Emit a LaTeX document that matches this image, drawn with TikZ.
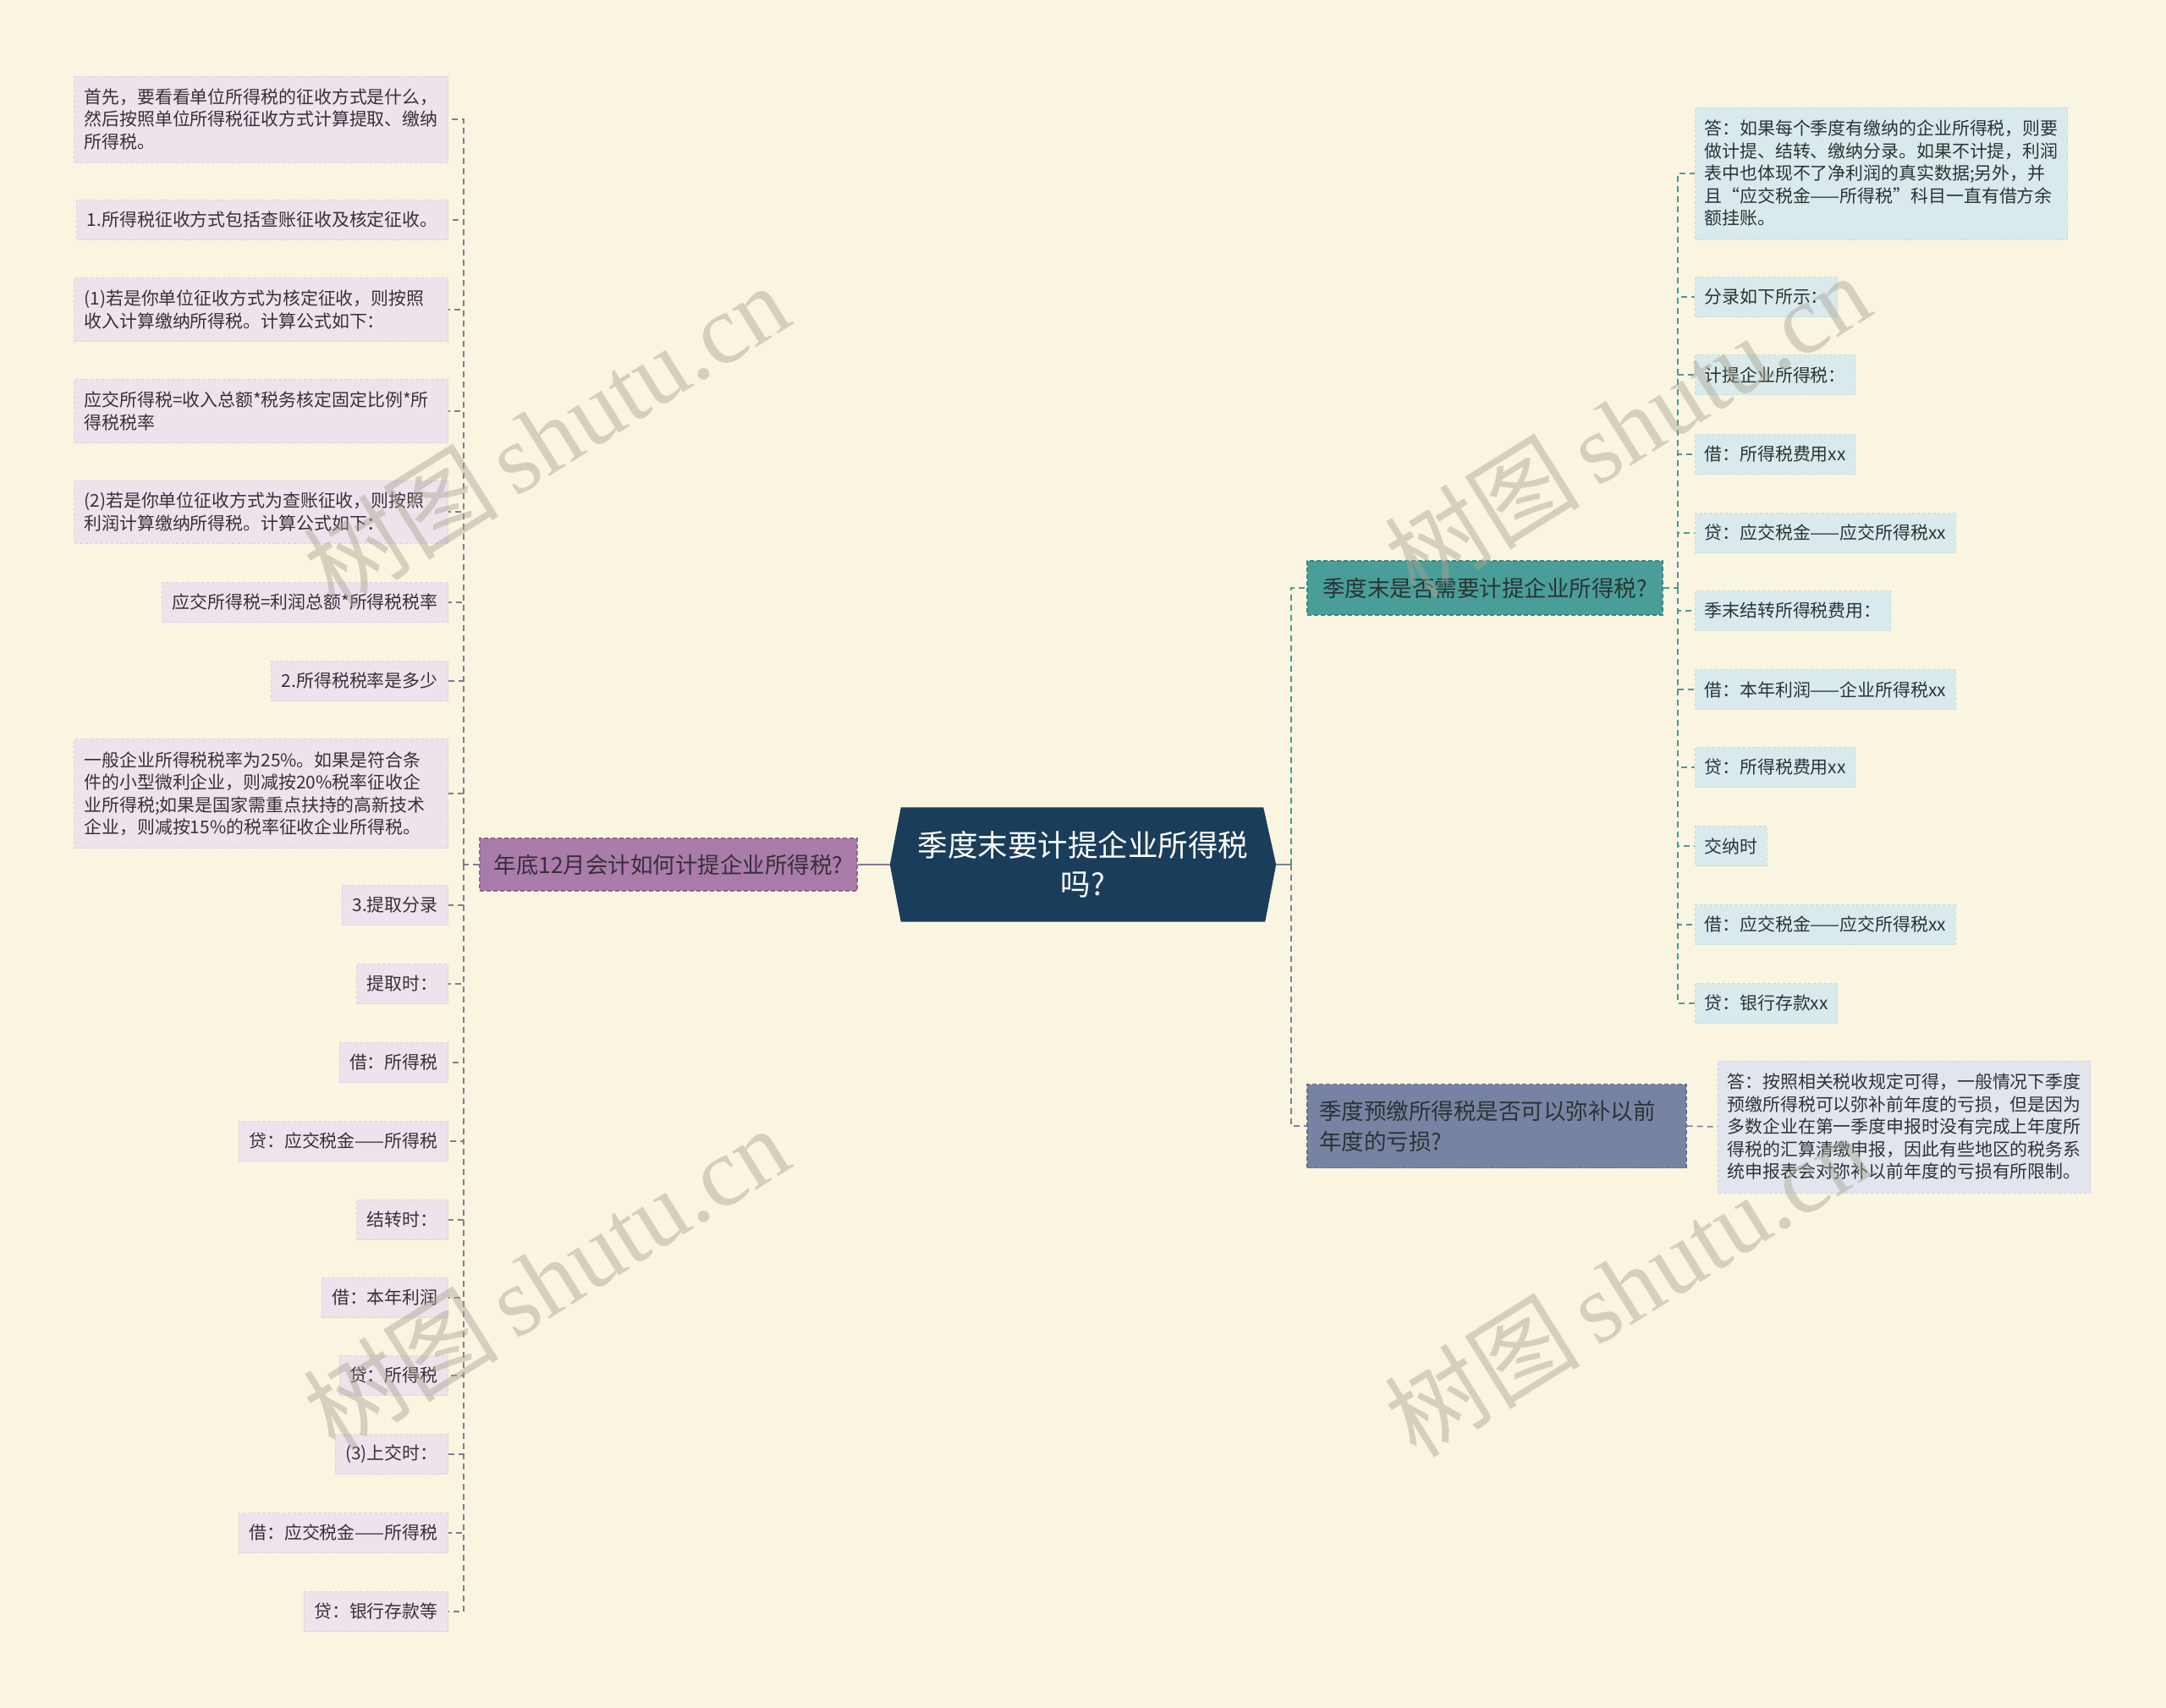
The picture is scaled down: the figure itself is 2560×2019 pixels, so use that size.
\documentclass[tikz,border=0pt]{standalone}
\usepackage{fontspec}
\newfontfamily\cjk{Noto Sans CJK SC}
\newfontfamily\wmserif{Liberation Serif}
\definecolor{bgc}{HTML}{FAF5E1}
\definecolor{lfillL}{HTML}{EDE3EC}
\definecolor{ldrawL}{HTML}{E0D2E0}
\definecolor{lfillR}{HTML}{DAEAEC}
\definecolor{ldrawR}{HTML}{C8DDE0}
\definecolor{lfillB}{HTML}{E2E5EE}
\definecolor{ldrawB}{HTML}{D0D5E2}
\definecolor{bfillL}{HTML}{A97CAA}
\definecolor{bdrawL}{HTML}{8E6490}
\definecolor{bfillA}{HTML}{4A9E99}
\definecolor{bdrawA}{HTML}{3C8782}
\definecolor{bfillB}{HTML}{7883A3}
\definecolor{bdrawB}{HTML}{646E8E}
\definecolor{rootc}{HTML}{1A3D5B}
\definecolor{cL}{HTML}{8E7590}
\definecolor{cA}{HTML}{4D9A93}
\definecolor{cB}{HTML}{7A84A0}
\definecolor{txtL}{HTML}{3A2E3A}
\definecolor{txtR}{HTML}{2A3434}
\definecolor{wmc}{HTML}{A8A392}
\begin{document}
\begin{tikzpicture}[x=1pt,y=-1pt,
  leaffont/.style={font=\cjk\fontsize{20.9}{26.5}\selectfont},
  leafL/.style={leaffont, draw=ldrawL, fill=lfillL, dash pattern=on 4pt off 2pt, line width=1pt,
    text=txtL, inner xsep=12pt, inner ysep=0pt, align=left, anchor=east, minimum height=47pt},
  leafR/.style={leaffont, draw=ldrawR, fill=lfillR, dash pattern=on 4pt off 2pt, line width=1pt,
    text=txtR, inner xsep=11pt, inner ysep=0pt, align=left, anchor=west, minimum height=47pt},
  branchfont/.style={font=\cjk\fontsize{26.5}{36}\selectfont},
  brbox/.style={branchfont, dash pattern=on 5pt off 3pt, line width=1.2pt, inner xsep=14pt, inner ysep=0pt},
  connL/.style={draw=cL, line width=1.6pt, dash pattern=on 7pt off 5pt},
  connA/.style={draw=cA, line width=1.6pt, dash pattern=on 7pt off 5pt},
  connB/.style={draw=cB, line width=1.6pt, dash pattern=on 7pt off 5pt},
  trunkA/.style={draw=cA, line width=2.4pt, dash pattern=on 7pt off 5pt},
  trunkB/.style={draw=cB, line width=2.4pt, dash pattern=on 7pt off 5pt},
  wm/.style={text=wmc, opacity=0.45, rotate=32, inner sep=0pt}
]
\fill[bgc] (0,0) rectangle (2560,2019);
\useasboundingbox (0,0) rectangle (2560,2019);

% ---------- root ----------
\node (root) [minimum width=456pt, minimum height=135pt, inner sep=0pt] at (1280,1022) {};
\fill[rootc] (root.west) -- ([xshift=13pt]root.north west) -- ([xshift=-15pt]root.north east)
  -- (root.east) -- ([xshift=-13pt]root.south east) -- ([xshift=13pt]root.south west) -- cycle;
\node (rootlabel) [font=\cjk\fontsize{35.5}{46}\selectfont, text=white, align=center] at (root.center) {季度末要计提企业所得税\\吗?};

% ---------- branches ----------
\node (BL) [brbox, fill=bfillL, draw=bdrawL, text=txtL, minimum width=446pt, minimum height=62pt] at (790,1022) {年底12月会计如何计提企业所得税?};
\node (BA) [brbox, fill=bfillA, draw=bdrawA, text=txtR, minimum width=420pt, minimum height=64pt] at (1755,695) {季度末是否需要计提企业所得税?};
\node (BB) [brbox, fill=bfillB, draw=bdrawB, text=txtR, minimum width=448pt, minimum height=99pt, align=left, text width=420pt] at (1769,1331) {季度预缴所得税是否可以弥补以前\\年度的亏损?};

% ---------- left leaves ----------
\node (L1) [leafL, minimum width=442pt, minimum height=102pt, text width=418pt] at (530,141) {首先，要看看单位所得税的征收方式是什么，\\然后按照单位所得税征收方式计算提取、缴纳\\所得税。};
\node (L2) [leafL] at (530,260) {1.所得税征收方式包括查账征收及核定征收。};
\node (L3) [leafL, minimum width=442pt, minimum height=75pt, text width=418pt] at (530,366) {(1)若是你单位征收方式为核定征收，则按照\\收入计算缴纳所得税。计算公式如下：};
\node (L4) [leafL, minimum width=442pt, minimum height=75pt, text width=418pt] at (530,486) {应交所得税=收入总额*税务核定固定比例*所\\得税税率};
\node (L5) [leafL, minimum width=442pt, minimum height=74pt, text width=418pt] at (530,605) {(2)若是你单位征收方式为查账征收，则按照\\利润计算缴纳所得税。计算公式如下：};
\node (L6) [leafL] at (530,712) {应交所得税=利润总额*所得税税率};
\node (L7) [leafL] at (530,805) {2.所得税税率是多少};
\node (L8) [leafL, minimum width=442pt, minimum height=129pt, text width=418pt] at (530,938) {一般企业所得税税率为25\%。如果是符合条\\件的小型微利企业，则减按20\%税率征收企\\业所得税;如果是国家需重点扶持的高新技术\\企业，则减按15\%的税率征收企业所得税。};
\node (L9) [leafL] at (530,1070) {3.提取分录};
\node (L10) [leafL] at (530,1163) {提取时：};
\node (L11) [leafL] at (530,1256) {借：所得税};
\node (L12) [leafL] at (530,1349) {贷：应交税金——所得税};
\node (L13) [leafL] at (530,1442) {结转时：};
\node (L14) [leafL] at (530,1534) {借：本年利润};
\node (L15) [leafL] at (530,1626) {贷：所得税};
\node (L16) [leafL] at (530,1719) {(3)上交时：};
\node (L17) [leafL] at (530,1812) {借：应交税金——所得税};
\node (L18) [leafL] at (530,1905) {贷：银行存款等};

% ---------- right leaves (A) ----------
\node (A1) [leafR, minimum width=440pt, minimum height=156pt, text width=418pt] at (2003,205) {答：如果每个季度有缴纳的企业所得税，则要\\做计提、结转、缴纳分录。如果不计提，利润\\表中也体现不了净利润的真实数据;另外，并\\且“应交税金——所得税”科目一直有借方余\\额挂账。};
\node (A2) [leafR] at (2003,351) {分录如下所示：};
\node (A3) [leafR] at (2003,443) {计提企业所得税：};
\node (A4) [leafR] at (2003,537) {借：所得税费用xx};
\node (A5) [leafR] at (2003,630) {贷：应交税金——应交所得税xx};
\node (A6) [leafR] at (2003,722) {季末结转所得税费用：};
\node (A7) [leafR] at (2003,815) {借：本年利润——企业所得税xx};
\node (A8) [leafR] at (2003,907) {贷：所得税费用xx};
\node (A9) [leafR] at (2003,1000) {交纳时};
\node (A10) [leafR] at (2003,1093) {借：应交税金——应交所得税xx};
\node (A11) [leafR] at (2003,1186) {贷：银行存款xx};

% ---------- right leaf (B) ----------
\node (B1) [leafR, draw=ldrawB, fill=lfillB, minimum width=440pt, minimum height=156pt, text width=418pt] at (2030,1332) {答：按照相关税收规定可得，一般情况下季度\\预缴所得税可以弥补前年度的亏损，但是因为\\多数企业在第一季度申报时没有完成上年度所\\得税的汇算清缴申报，因此有些地区的税务系\\统申报表会对弥补以前年度的亏损有所限制。};

% ---------- connectors ----------
\draw[cL, line width=2.6pt] (root.west) -- (BL.east);
\draw[cB, line width=2.6pt] (root.east) -- (1526,1022) coordinate (jR);
\draw[trunkA] (jR) |- (BA.west);
\draw[trunkB] (jR) |- (BB.west);

\coordinate (jL) at (548,1022);
\draw[connL] (BL.west) -- (jL);
\foreach \k in {1,...,18} { \draw[connL] (jL) |- (L\k.east); }

\coordinate (jA) at (1983,695);
\draw[connA] (BA.east) -- (jA);
\foreach \k in {1,...,11} { \draw[connA] (jA) |- (A\k.west); }

\draw[connB] (BB.east) -- (B1.west);

% ---------- watermarks ----------
\node (wm1) [wm] at (645,514) {\cjk\fontsize{116}{116}\selectfont 树图\,\wmserif shutu.cn};
\node (wm2) [wm] at (1923,502) {\cjk\fontsize{116}{116}\selectfont 树图\,\wmserif shutu.cn};
\node (wm3) [wm] at (645,1510) {\cjk\fontsize{116}{116}\selectfont 树图\,\wmserif shutu.cn};
\node (wm4) [wm] at (1923,1518) {\cjk\fontsize{116}{116}\selectfont 树图\,\wmserif shutu.cn};
\end{tikzpicture}
\end{document}
